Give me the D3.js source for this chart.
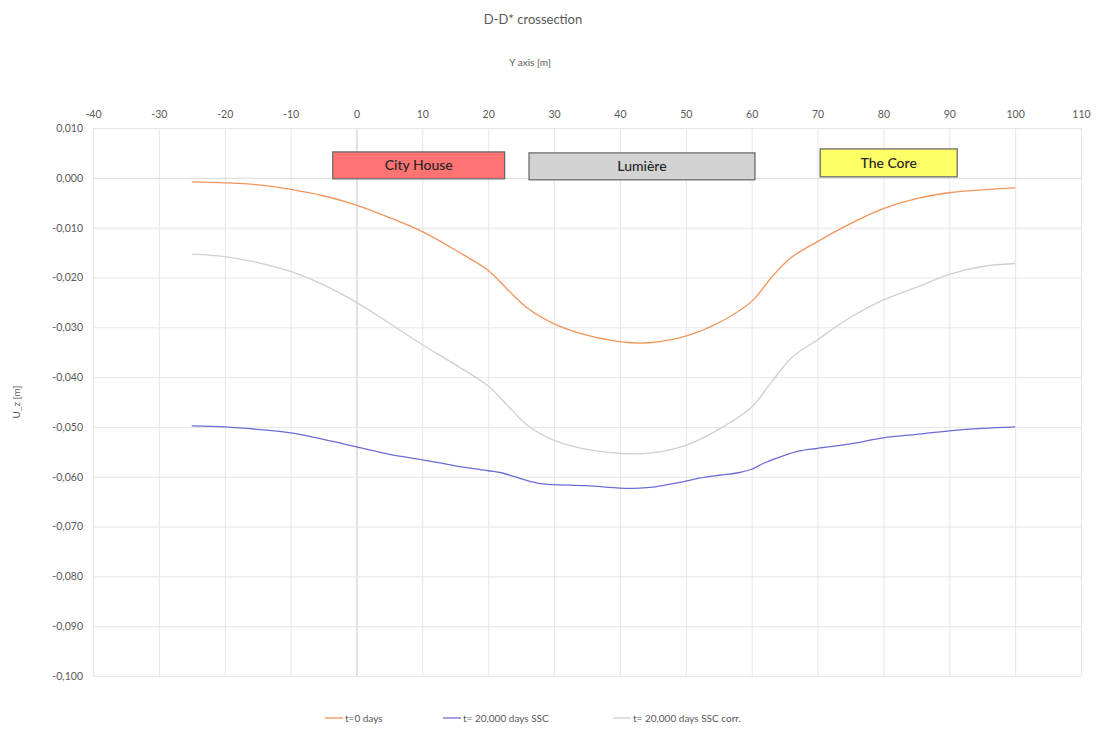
<!DOCTYPE html>
<html>
<head>
<meta charset="utf-8">
<script src="https://cdn.jsdelivr.net/npm/d3@7"></script>
<style>
  html, body { margin: 0; padding: 0; background: #ffffff; }
  svg { display: block; font-family: Lato, "Open Sans", "Noto Sans", sans-serif; }
</style>
</head>
<body>
<svg id="chart" width="1096" height="729"></svg>
<script>
// Horizontal position along the D-D* section [m]
const xT0 = [-25, -20, -15, -10, -5, 0, 5, 10, 15, 20, 23, 26, 30, 35, 40, 43, 46, 50, 55, 60, 63, 66, 70, 75, 80, 85, 90, 95, 100];
// Vertical displacement U_z [m], t = 0 days
const uzT0 = [-0.0008, -0.0010, -0.0014, -0.0023, -0.0036, -0.0055, -0.0080, -0.0108, -0.0145, -0.0186, -0.0225, -0.0262, -0.0293, -0.0316, -0.0329, -0.0332, -0.0329, -0.0318, -0.0291, -0.0248, -0.0200, -0.0160, -0.0128, -0.0092, -0.0062, -0.0042, -0.0030, -0.0024, -0.0020];

const xSSC = [-25, -20, -15, -10, -5, 0, 5, 10, 15, 20, 22, 24, 26, 28, 30, 35, 40, 43, 45, 48, 50, 52, 55, 58, 60, 62, 65, 67, 70, 75, 80, 85, 90, 95, 100];
// t = 20,000 days, SSC
const uzSSC = [-0.0498, -0.0500, -0.0505, -0.0512, -0.0525, -0.0540, -0.0555, -0.0566, -0.0578, -0.0588, -0.0592, -0.0600, -0.0608, -0.0614, -0.0616, -0.0618, -0.0623, -0.0623, -0.0621, -0.0614, -0.0609, -0.0603, -0.0597, -0.0592, -0.0585, -0.0572, -0.0557, -0.0549, -0.0543, -0.0534, -0.0522, -0.0515, -0.0508, -0.0503, -0.0500];

const xCorr = [-25, -20, -15, -10, -5, 0, 5, 10, 15, 20, 23, 26, 30, 35, 40, 43, 46, 50, 55, 60, 63, 66, 70, 75, 80, 85, 90, 95, 100];
// t = 20,000 days, SSC corrected
const uzCorr = [-0.0153, -0.0158, -0.0170, -0.0188, -0.0215, -0.0250, -0.0292, -0.0335, -0.0375, -0.0418, -0.0458, -0.0497, -0.0527, -0.0545, -0.0553, -0.0554, -0.0550, -0.0537, -0.0505, -0.0460, -0.0410, -0.0362, -0.0325, -0.0280, -0.0245, -0.0220, -0.0194, -0.0178, -0.0172];

const seriesNames = ["t=0 days", "t= 20,000 days SSC", "t= 20,000 days SSC corr."];

// Buildings along the section: extent in Y [m] and band in U_z [m]
const buildingNames = ["City House", "Lumière", "The Core"];
const buildingFrom = [-3.6, 26.2, 70.4];
const buildingTo = [22.5, 60.5, 91.2];
const buildingTop = [0.0052, 0.0050, 0.0058];
const buildingBottom = [-0.0002, -0.0004, 0.0002];

const xTicks = [-40, -30, -20, -10, 0, 10, 20, 30, 40, 50, 60, 70, 80, 90, 100, 110];
const yTicks = [0.01, 0, -0.01, -0.02, -0.03, -0.04, -0.05, -0.06, -0.07, -0.08, -0.09, -0.1];

const seriesColors = ["#f0955a", "#6c6cd4", "#cfcfcf"];
const buildingFill = ["#ff7373", "#d3d3d3", "#ffff66"];

const svg = d3.select("#chart");
const plot = { left: 93, right: 1081, top: 128, bottom: 676 };

const x = d3.scaleLinear().domain([-40, 110]).range([plot.left, plot.right]);
const y = d3.scaleLinear().domain([-0.1, 0.01]).range([plot.bottom, plot.top]);

const locale = d3.formatLocale({ decimal: ",", thousands: ".", grouping: [3], currency: ["", "€"], minus: "-" });
const fmtY = locale.format(".3f");

// Gridlines
svg.append("g")
  .attr("transform", `translate(0,${plot.top})`)
  .call(d3.axisTop(x).tickValues(xTicks).tickSize(-(plot.bottom - plot.top)).tickFormat(""))
  .call(g => g.select(".domain").remove())
  .call(g => g.selectAll("line").attr("stroke", d => d === 0 ? "#c4c4c4" : "#e6e6e6").attr("stroke-width", 1));

svg.append("g")
  .attr("transform", `translate(${plot.left},0)`)
  .call(d3.axisLeft(y).tickValues(yTicks).tickSize(-(plot.right - plot.left)).tickFormat(""))
  .call(g => g.select(".domain").remove())
  .call(g => g.selectAll("line").attr("stroke", d => d === 0 ? "#dadada" : "#e6e6e6").attr("stroke-width", 1));

// Tick labels
const xAxis = svg.append("g")
  .attr("transform", `translate(0,${plot.top - 10})`)
  .call(d3.axisTop(x).tickValues(xTicks).tickSize(0).tickPadding(0).tickFormat(d3.format("d")));
xAxis.select(".domain").remove();
xAxis.selectAll("text").attr("fill", "#595959").attr("font-size", 10.5)
  .attr("font-family", 'Lato, "Open Sans", sans-serif').text(d => String(d));

const yAxis = svg.append("g")
  .attr("transform", `translate(${plot.left - 10},0)`)
  .call(d3.axisLeft(y).tickValues(yTicks).tickSize(0).tickPadding(0).tickFormat(fmtY));
yAxis.select(".domain").remove();
yAxis.selectAll("text").attr("fill", "#595959").attr("font-size", 10.5)
  .attr("font-family", 'Lato, "Open Sans", sans-serif');

// Titles
svg.append("text").attr("x", 533).attr("y", 24).attr("text-anchor", "middle")
  .attr("font-size", 13).attr("fill", "#595959").text("D-D* crossection");
svg.append("text").attr("x", 530).attr("y", 66).attr("text-anchor", "middle")
  .attr("font-size", 10).attr("fill", "#595959").text("Y axis [m]");
svg.append("text").attr("transform", "translate(20,402) rotate(-90)").attr("text-anchor", "middle")
  .attr("font-size", 10).attr("fill", "#595959").text("U_z [m]");

// Building boxes
const bData = buildingNames.map((n, i) => ({ name: n, x0: buildingFrom[i], x1: buildingTo[i], top: buildingTop[i], bottom: buildingBottom[i], fill: buildingFill[i] }));
const bg = svg.append("g").selectAll("g").data(bData).join("g");
bg.append("rect")
  .attr("x", d => x(d.x0)).attr("y", d => y(d.top))
  .attr("width", d => x(d.x1) - x(d.x0)).attr("height", d => y(d.bottom) - y(d.top))
  .attr("fill", d => d.fill).attr("stroke", "#6b6b6b").attr("stroke-width", 1.3);
bg.append("text")
  .attr("x", d => (x(d.x0) + x(d.x1)) / 2).attr("y", d => (y(d.top) + y(d.bottom)) / 2 + 5)
  .attr("text-anchor", "middle").attr("font-size", 14).attr("font-weight", 500).attr("fill", "#262626")
  .text(d => d.name);

// Series lines
const series = [
  { xs: xT0, ys: uzT0 },
  { xs: xSSC, ys: uzSSC },
  { xs: xCorr, ys: uzCorr }
];
const line = d3.line().x(d => x(d[0])).y(d => y(d[1])).curve(d3.curveCatmullRom.alpha(0.5));
svg.append("g").selectAll("path").data(series).join("path")
  .attr("d", s => line(s.xs.map((v, i) => [v, s.ys[i]])))
  .attr("fill", "none")
  .attr("stroke", (s, i) => seriesColors[i])
  .attr("stroke-width", 1.3);

// Legend
const legendX = [325, 443, 613];
const lg = svg.append("g").selectAll("g").data(seriesNames).join("g")
  .attr("transform", (d, i) => `translate(${legendX[i]},718)`);
lg.append("line").attr("x1", 0).attr("x2", 18).attr("y1", 0).attr("y2", 0)
  .attr("stroke", (d, i) => seriesColors[i]).attr("stroke-width", 1.3);
lg.append("text").attr("x", 20).attr("y", 3.5).attr("font-size", 10).attr("fill", "#595959").text(d => d);
</script>
</body>
</html>
